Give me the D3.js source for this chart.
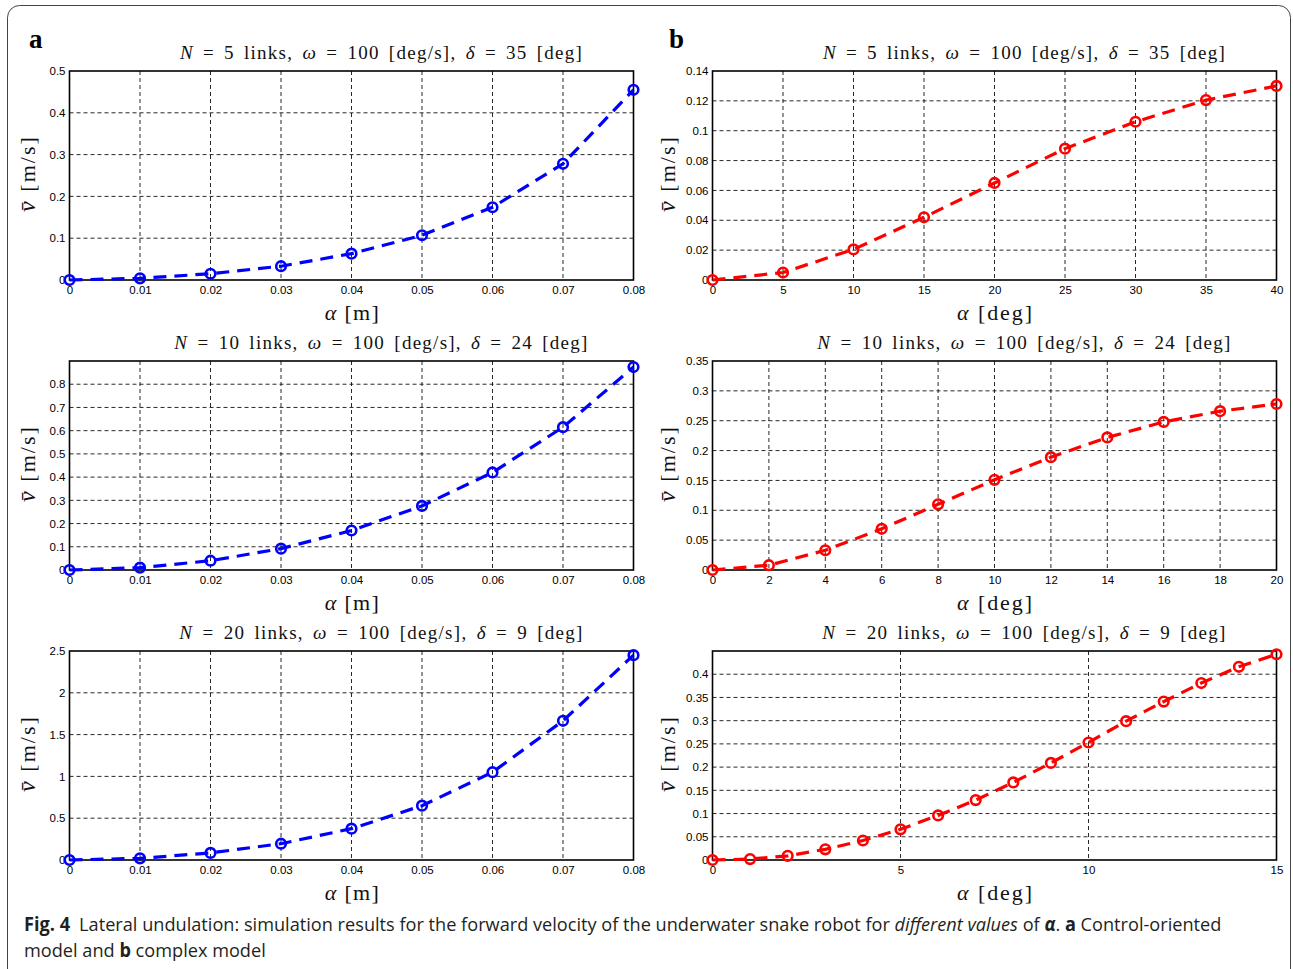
<!DOCTYPE html>
<html>
<head>
<meta charset="utf-8">
<script src="https://cdn.jsdelivr.net/npm/d3@7/dist/d3.min.js"></script>
<style>
  html, body { margin: 0; padding: 0; background: #fff; }
  svg { display: block; }
</style>
</head>
<body>
<svg id="fig" width="1293" height="969"></svg>
<script>
// Forward velocity of the underwater snake robot (lateral undulation)
// Column a: control-oriented model, alpha in metres
const alphaM = [0, 0.01, 0.02, 0.03, 0.04, 0.05, 0.06, 0.07, 0.08];
const vA5  = [0, 0.004, 0.015, 0.033, 0.063, 0.107, 0.174, 0.278, 0.455];
const vA10 = [0, 0.01, 0.04, 0.092, 0.17, 0.276, 0.42, 0.615, 0.874];
const vA20 = [0, 0.02, 0.085, 0.195, 0.375, 0.65, 1.05, 1.665, 2.45];

// Column b: complex model, alpha in degrees
const alphaDeg5  = [0, 5, 10, 15, 20, 25, 30, 35, 40];
const vB5  = [0, 0.005, 0.0205, 0.042, 0.065, 0.088, 0.106, 0.1205, 0.130];
const alphaDeg10 = [0, 2, 4, 6, 8, 10, 12, 14, 16, 18, 20];
const vB10 = [0, 0.008, 0.033, 0.069, 0.11, 0.151, 0.189, 0.222, 0.248, 0.266, 0.278];
const alphaDeg20 = [0, 1, 2, 3, 4, 5, 6, 7, 8, 9, 10, 11, 12, 13, 14, 15];
const vB20 = [0, 0.002, 0.009, 0.023, 0.042, 0.066, 0.096, 0.129, 0.167, 0.209, 0.253, 0.299, 0.341, 0.381, 0.416, 0.443];

// Axis ticks
const xTicksM   = [0, 0.01, 0.02, 0.03, 0.04, 0.05, 0.06, 0.07, 0.08];
const xTicks40  = [0, 5, 10, 15, 20, 25, 30, 35, 40];
const xTicks20  = [0, 2, 4, 6, 8, 10, 12, 14, 16, 18, 20];
const xTicks15  = [0, 5, 10, 15];
const yTicksA5  = [0, 0.1, 0.2, 0.3, 0.4, 0.5];
const yTicksA10 = [0, 0.1, 0.2, 0.3, 0.4, 0.5, 0.6, 0.7, 0.8];
const yTicksA20 = [0, 0.5, 1, 1.5, 2, 2.5];
const yTicksB5  = [0, 0.02, 0.04, 0.06, 0.08, 0.1, 0.12, 0.14];
const yTicksB10 = [0, 0.05, 0.1, 0.15, 0.2, 0.25, 0.3, 0.35];
const yTicksB20 = [0, 0.05, 0.1, 0.15, 0.2, 0.25, 0.3, 0.35, 0.4];

const titles = [
  {N: "5", d: "35", w: 402},
  {N: "10", d: "24", w: 413},
  {N: "20", d: "9", w: 403}
];

const panels = [
  {col: 0, row: 0, x: alphaM, y: vA5,  xDom: [0, 0.08], yDom: [0, 0.5],  xt: xTicksM,  yt: yTicksA5,  color: "#0000ff", unit: "m"},
  {col: 0, row: 1, x: alphaM, y: vA10, xDom: [0, 0.08], yDom: [0, 0.9],  xt: xTicksM,  yt: yTicksA10, color: "#0000ff", unit: "m"},
  {col: 0, row: 2, x: alphaM, y: vA20, xDom: [0, 0.08], yDom: [0, 2.5],  xt: xTicksM,  yt: yTicksA20, color: "#0000ff", unit: "m"},
  {col: 1, row: 0, x: alphaDeg5,  y: vB5,  xDom: [0, 40], yDom: [0, 0.14], xt: xTicks40, yt: yTicksB5,  color: "#ff0000", unit: "deg"},
  {col: 1, row: 1, x: alphaDeg10, y: vB10, xDom: [0, 20], yDom: [0, 0.35], xt: xTicks20, yt: yTicksB10, color: "#ff0000", unit: "deg"},
  {col: 1, row: 2, x: alphaDeg20, y: vB20, xDom: [0, 15], yDom: [0, 0.45], xt: xTicks15, yt: yTicksB20, color: "#ff0000", unit: "deg"}
];

const colLeft = [69.5, 712.5];
const plotW = 564;
const rowTop = [71, 361, 651];
const plotH = 209;

const serif = "'Liberation Serif', 'DejaVu Serif', serif";
const sans = "'Liberation Sans', Arial, sans-serif";

const svg = d3.select("#fig");

// outer frame
svg.append("rect")
  .attr("x", 7.5).attr("y", 5.5)
  .attr("width", 1283).attr("height", 990)
  .attr("rx", 12)
  .attr("fill", "none").attr("stroke", "#444").attr("stroke-width", 1);

// panel letters
svg.append("text").attr("x", 29).attr("y", 48)
  .attr("font-family", serif).attr("font-weight", "bold")
  .attr("font-size", 27).text("a");
svg.append("text").attr("x", 669).attr("y", 48)
  .attr("font-family", serif).attr("font-weight", "bold")
  .attr("font-size", 27).text("b");

function fmt(v) {
  return String(+v.toFixed(4));
}

// widen a text to a given span: part as letter spacing, the rest between words
function spreadTo(sel, width, letterShare) {
  const node = sel.node();
  const natural = node.getComputedTextLength();
  const txt = node.textContent;
  const n = txt.length;
  const words = (txt.match(/ /g) || []).length;
  const extra = width - natural;
  if (extra <= 0 || n < 2) return;
  const share = words > 0 ? letterShare : 1;
  sel.attr("letter-spacing", (extra * share / (n - 1)).toFixed(3));
  if (words > 0 && share < 1) sel.attr("word-spacing", (extra * (1 - share) / words).toFixed(3));
}

panels.forEach(p => {
  const x0 = colLeft[p.col], y0 = rowTop[p.row];
  const g = svg.append("g").attr("transform", `translate(${x0},${y0})`);
  const xs = d3.scaleLinear().domain(p.xDom).range([0, plotW]);
  const ys = d3.scaleLinear().domain(p.yDom).range([plotH, 0]);

  // grid lines
  g.append("g").selectAll("line").data(p.xt.filter(t => t > p.xDom[0] && t < p.xDom[1]))
    .join("line")
    .attr("x1", d => xs(d)).attr("x2", d => xs(d))
    .attr("y1", 0).attr("y2", plotH)
    .attr("stroke", "#111").attr("stroke-width", 0.9).attr("stroke-dasharray", "4,3");
  g.append("g").selectAll("line").data(p.yt.filter(t => t > p.yDom[0] && t < p.yDom[1]))
    .join("line")
    .attr("x1", 0).attr("x2", plotW)
    .attr("y1", d => ys(d)).attr("y2", d => ys(d))
    .attr("stroke", "#111").attr("stroke-width", 0.9).attr("stroke-dasharray", "4,3");

  // axes
  const xAxis = d3.axisBottom(xs).tickValues(p.xt).tickSize(0).tickPadding(5).tickFormat(fmt);
  const yAxis = d3.axisLeft(ys).tickValues(p.yt).tickSize(0).tickPadding(4).tickFormat(fmt);
  const xa = g.append("g").attr("transform", `translate(0,${plotH})`).call(xAxis);
  const ya = g.append("g").call(yAxis);
  [xa, ya].forEach(a => {
    a.select(".domain").remove();
    a.selectAll("text").attr("font-family", sans).attr("font-size", 11.5).attr("fill", "#000");
  });
  xa.selectAll("text").attr("dy", "0.75em");

  // box
  g.append("rect").attr("x", 0).attr("y", 0).attr("width", plotW).attr("height", plotH)
    .attr("fill", "none").attr("stroke", "#000").attr("stroke-width", 1.6);

  // data line and markers
  const pts = p.x.map((xv, i) => [xv, p.y[i]]);
  g.append("path").datum(pts)
    .attr("d", d3.line().x(d => xs(d[0])).y(d => ys(d[1])))
    .attr("fill", "none").attr("stroke", p.color).attr("stroke-width", 3.2)
    .attr("stroke-dasharray", "13,8");
  g.append("g").selectAll("circle").data(pts).join("circle")
    .attr("cx", d => xs(d[0])).attr("cy", d => ys(d[1])).attr("r", 4.8)
    .attr("fill", "none").attr("stroke", p.color).attr("stroke-width", 2.6);

  // title
  const t = titles[p.row];
  const title = g.append("text").attr("x", plotW / 2 + 30).attr("y", -12)
    .attr("text-anchor", "middle").attr("font-family", serif).attr("font-size", 19)
    .attr("fill", "#111");
  title.append("tspan").attr("font-style", "italic").text("N");
  title.append("tspan").text(` = ${t.N} links, `);
  title.append("tspan").attr("font-style", "italic").text("ω");
  title.append("tspan").text(" = 100 [deg/s], ");
  title.append("tspan").attr("font-style", "italic").text("δ");
  title.append("tspan").text(` = ${t.d} [deg]`);
  spreadTo(title, t.w, 0.6);

  // x label
  const xl = g.append("text").attr("x", plotW / 2 + 1).attr("y", plotH + 40)
    .attr("text-anchor", "middle").attr("font-family", serif).attr("font-size", 22)
    .attr("fill", "#111");
  xl.append("tspan").attr("font-style", "italic").text("α");
  xl.append("tspan").text(` [${p.unit}]`);
  spreadTo(xl, p.unit === "m" ? 54 : 75, 1);

  // y label
  const yl = g.append("text")
    .attr("transform", `translate(${p.col === 0 ? -35 : -38},${plotH / 2 - 2}) rotate(-90)`)
    .attr("text-anchor", "middle").attr("font-family", serif).attr("font-size", 22)
    .attr("fill", "#111");
  yl.append("tspan").attr("font-style", "italic").attr("font-size", 24).text("v\u0304");
  yl.append("tspan").text(" [m/s]");
  spreadTo(yl, 77, 1);
});

// caption, set in a narrow sans and fitted to the column width
const cap = svg.append("g").attr("font-family", "'Open Sans', 'Noto Sans', sans-serif")
  .attr("font-size", 19).attr("fill", "#231f20");
const capInner = cap.append("g");
const l1 = capInner.append("text").attr("x", 0).attr("y", 931);
l1.append("tspan").attr("font-weight", "bold").text("Fig. 4");
l1.append("tspan").text("\u2002Lateral undulation: simulation results for the forward velocity of the underwater snake robot for ");
l1.append("tspan").attr("font-style", "italic").text("different values");
l1.append("tspan").text(" of ");
l1.append("tspan").attr("font-style", "italic").attr("font-weight", "bold").text("α");
l1.append("tspan").text(". ");
l1.append("tspan").attr("font-weight", "bold").text("a");
l1.append("tspan").text(" Control-oriented");
const l2 = capInner.append("text").attr("x", 0).attr("y", 957);
l2.append("tspan").text("model and ");
l2.append("tspan").attr("font-weight", "bold").text("b");
l2.append("tspan").text(" complex model");
const sx = 1198 / l1.node().getComputedTextLength();
capInner.attr("transform", `translate(24,0) scale(${sx.toFixed(4)},1)`);
</script>
</body>
</html>
